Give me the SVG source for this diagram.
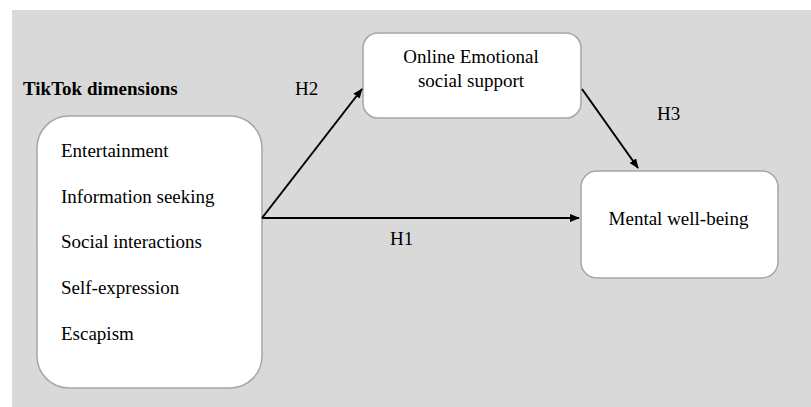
<svg xmlns="http://www.w3.org/2000/svg" width="811" height="407" viewBox="0 0 811 407">
<defs>
<marker id="ah" markerWidth="10" markerHeight="8" refX="9" refY="4" orient="auto" markerUnits="userSpaceOnUse">
<path d="M0,0 L10,4 L0,8 Z" fill="#000"/>
</marker>
<style>
.box{fill:#fff;stroke:#a6a6a6;stroke-width:1.5}
.t{font-family:"Liberation Serif","Times New Roman",serif;font-size:19px;fill:#000}
.c{text-anchor:middle}
.edge{stroke:#000;stroke-width:2;fill:none;marker-end:url(#ah)}
</style>
</defs>
<rect width="811" height="407" fill="#fff"/>
<rect x="12" y="10" width="799" height="397" fill="#d9d9d9"/>
<text class="t" x="23" y="95" font-weight="bold" font-size="16">TikTok dimensions</text>
<g id="tiktok">
<rect class="box" x="37" y="116" width="225" height="272" rx="32"/>
<text class="t" x="61" y="157">Entertainment</text>
<text class="t" x="61" y="203">Information seeking</text>
<text class="t" x="61" y="248">Social interactions</text>
<text class="t" x="61" y="294">Self-expression</text>
<text class="t" x="61" y="340">Escapism</text>
</g>
<g id="support">
<rect class="box" x="363" y="33" width="218" height="85" rx="15"/>
<text class="t c" x="471" y="63">Online Emotional</text>
<text class="t c" x="471" y="87">social support</text>
</g>
<g id="wellbeing">
<rect class="box" x="581" y="171" width="197" height="107" rx="16"/>
<text class="t c" x="678.5" y="225">Mental well-being</text>
</g>
<g id="connectors">
<line class="edge" x1="262" y1="218" x2="362" y2="89"/>
<line class="edge" x1="262" y1="218" x2="579" y2="218"/>
<line class="edge" x1="582" y1="89" x2="638" y2="168"/>
<text class="t" x="295" y="95">H2</text>
<text class="t" x="390" y="245">H1</text>
<text class="t" x="657" y="120">H3</text>
</g>
</svg>
